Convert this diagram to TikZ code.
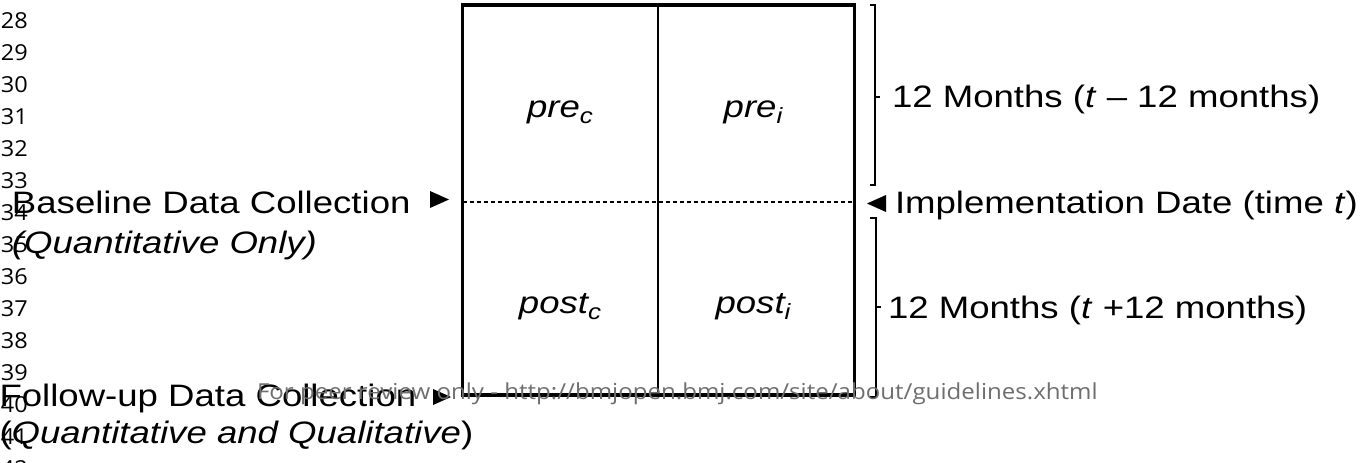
\documentclass[tikz,border=0pt]{standalone}
\usepackage{fontspec}
\setmainfont{Liberation Sans}
\newfontfamily\marginfont{Open Sans}
\usetikzlibrary{calc}

\definecolor{markgray}{HTML}{6E6E6E}

% subscript used in the cell labels
\newcommand{\cellsub}[1]{\raisebox{-0.2em}{\fontsize{22}{22}\selectfont\itshape #1}}

\begin{document}
\begin{tikzpicture}[x=1pt,y=-1pt,
  lbl/.style={inner sep=0pt, outer sep=0pt, anchor=base west,
    font=\fontsize{31}{36}\selectfont, xscale=1.18},
  cell/.style={inner sep=0pt, outer sep=0pt, anchor=base,
    font=\fontsize{31}{36}\selectfont\itshape, xscale=1.18},
  linenum/.style={inner sep=0pt, outer sep=0pt, anchor=base west,
    font=\marginfont\fontsize{22}{26}\selectfont, xscale=1.07},
  watermark/.style={inner sep=0pt, outer sep=0pt, anchor=base west,
    font=\marginfont\fontsize{22}{26}\selectfont, text=markgray, xscale=1.095},
  frame/.style={line width=3.5pt},
  divider/.style={line width=1.8pt},
  midline/.style={line width=1.4pt, dash pattern=on 4.5pt off 2.5pt},
  brace/.style={line width=1.4pt},
  marker/.style={fill=black}
]
\useasboundingbox (0,0) rectangle (1369,463);
\clip (0,0) rectangle (1369,463);

% margin line numbers
\foreach \n in {28,...,42}
  \node[linenum] (ln\n) at (1,{28+32*(\n-28)}) {\n};

% the 2x2 grid
\coordinate (tl) at (462.5,5);
\coordinate (br) at (854.5,395);
\coordinate (mt) at (658,5);
\coordinate (mb) at (658,395);
\coordinate (ml) at (462.5,202);
\coordinate (mr) at (854.5,202);
\draw[divider] (mt) -- (mb);
\draw[midline] (ml) -- (mr);
\draw[frame] (tl) rectangle (br);

\node[cell] (prec)  at (560,117) {pre\cellsub{c}};
\node[cell] (prei)  at (753,117) {pre\cellsub{i}};
\node[cell] (postc) at (560,313) {post\cellsub{c}};
\node[cell] (posti) at (753,313) {post\cellsub{i}};

% left-hand labels
\node[lbl] (base)  at (12,213) {Baseline Data Collection};
\node[lbl] (baseq) at (12,253) {\itshape (Quantitative Only)};
\node[lbl] (foll)  at (-0.5,406) {Follow-up Data Collection};
\node[lbl] (follq) at (-0.5,443) {(\textit{Quantitative and Qualitative})};
\fill[marker] (430,191) -- (449,199.5) -- (430,208) -- cycle;
\fill[marker] (433,389) -- (451,397) -- (433,405) -- cycle;

% right-hand braces and labels
\draw[brace] (870,5) -- (875,5) -- (875,185) -- (870,185);
\draw[brace] (875,97) -- (880,97);
\draw[brace] (870,218) -- (876,218) -- (876,397) -- (870,397);
\draw[brace] (876,307) -- (881,307);
\fill[marker] (886,195) -- (867,203.5) -- (886,212) -- cycle;

\node[lbl] (pre)  at (892,107) {12 Months (\textit{t} – 12 months)};
\node[lbl] (impl) at (895,213) {Implementation Date (time \textit{t})};
\node[lbl] (post) at (888,318) {12 Months (\textit{t} +12 months)};

% footer line
\node[watermark] (wm) at (257,399) {For peer review only - http://bmjopen.bmj.com/site/about/guidelines.xhtml};
\end{tikzpicture}
\end{document}
